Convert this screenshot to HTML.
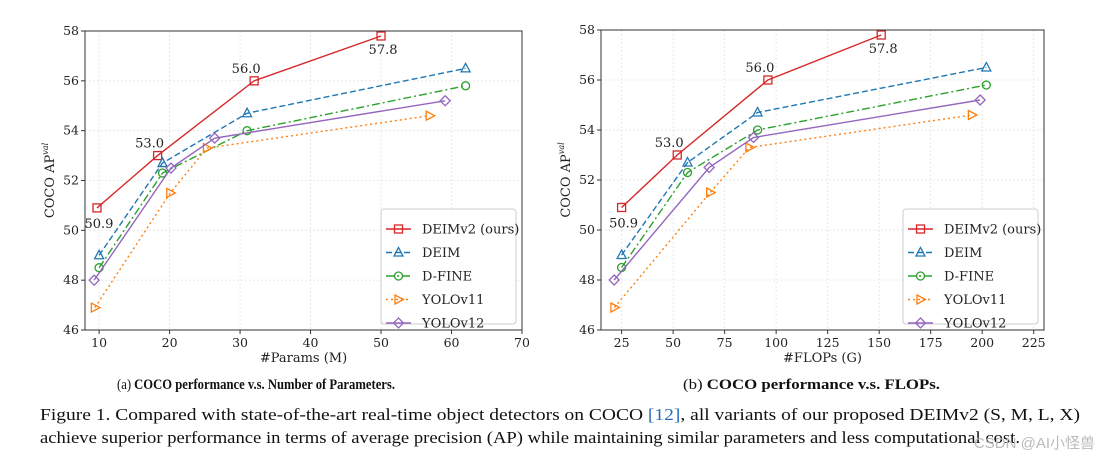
<!DOCTYPE html>
<html><head><meta charset="utf-8"><style>
html,body{margin:0;padding:0;background:#fff;}
svg{display:block;}
</style></head><body>
<svg id="fig" width="1101" height="466" viewBox="0 0 1101 466" xmlns="http://www.w3.org/2000/svg"></svg>
<script>
const seriesNames = ["DEIMv2 (ours)","DEIM","D-FINE","YOLOv11","YOLOv12"];
const yTicks = [46,48,50,52,54,56,58];
// Left chart: params (M)
const paramsTicks = [10,20,30,40,50,60,70];
const deimv2Params = [9.7,18.3,32,50];
const deimParams = [10,19,31,62];
const dfineParams = [10,19,31,62];
const yolo11Params = [9.4,20.1,25.3,56.9];
const yolo12Params = [9.3,20.2,26.4,59.1];
// Right chart: FLOPs (G)
const flopsTicks = [25,50,75,100,125,150,175,200,225];
const deimv2Flops = [25,52,96,151];
const deimFlops = [25,57,91,202];
const dfineFlops = [25,57,91,202];
const yolo11Flops = [21.5,68,87,195];
const yolo12Flops = [21.4,67.5,89,199];
// AP values (shared)
const deimv2AP = [50.9,53.0,56.0,57.8];
const deimAP = [49.0,52.7,54.7,56.5];
const dfineAP = [48.5,52.3,54.0,55.8];
const yolo11AP = [46.9,51.5,53.3,54.6];
const yolo12AP = [48.0,52.5,53.7,55.2];
const annotLabels = ["50.9","53.0","56.0","57.8"];

const NS="http://www.w3.org/2000/svg";
const svg=document.getElementById('fig');
function mk(tag,attrs,parent){const e=document.createElementNS(NS,tag);for(const k in attrs)e.setAttribute(k,attrs[k]);(parent||svg).appendChild(e);return e;}
const colors=["#d62728","#1f77b4","#2ca02c","#ff7f0e","#9467bd"];
const dashes=["","6,3","8,3,2,3","2,3",""];
const markers=["square","triangle","circle","tri-right","diamond"];
const TF='"DejaVu Serif","Liberation Serif",serif';

function marker(g,type,x,y,c){
  let e;
  if(type==="square") e=mk('rect',{x:x-4,y:y-4,width:8,height:8},g);
  else if(type==="triangle") e=mk('polygon',{points:`${x},${y-5} ${x+4.5},${y+3.5} ${x-4.5},${y+3.5}`},g);
  else if(type==="circle") e=mk('circle',{cx:x,cy:y,r:4},g);
  else if(type==="tri-right") e=mk('polygon',{points:`${x+5},${y} ${x-3.5},${y-4.5} ${x-3.5},${y+4.5}`},g);
  else e=mk('polygon',{points:`${x},${y-5} ${x+5},${y} ${x},${y+5} ${x-5},${y}`},g);
  e.setAttribute('fill','none');e.setAttribute('stroke',c);e.setAttribute('stroke-width','1.3');
  
  
}

function chart(prefix,L,R,T,B,xmin,xmax,xTicks,xLabel,xs,legX){
  const ys=[deimv2AP,deimAP,dfineAP,yolo11AP,yolo12AP];
  const sx=v=>L+(v-xmin)/(xmax-xmin)*(R-L);
  const sy=v=>B-(v-46)/(58-46)*(B-T);
  const g=mk('g',{});
  
  
  xTicks.forEach(t=>{const l=mk('line',{x1:sx(t),x2:sx(t),y1:T,y2:B,stroke:'#e3e3e3','stroke-width':0.8,'stroke-dasharray':'2,2'},g);
    });
  yTicks.forEach(t=>{const l=mk('line',{x1:L,x2:R,y1:sy(t),y2:sy(t),stroke:'#e3e3e3','stroke-width':0.8,'stroke-dasharray':'2,2'},g);
    });
  ys.forEach((yv,i)=>{
    const sg=mk('g',{},g);
    
    
    const pts=xs[i].map((x,j)=>sx(x)+','+sy(yv[j])).join(' ');
    const pl=mk('polyline',{points:pts,fill:'none',stroke:colors[i],'stroke-width':1.4},sg);
    if(dashes[i])pl.setAttribute('stroke-dasharray',dashes[i]);
    
    xs[i].forEach((x,j)=>marker(sg,markers[i],sx(x),sy(yv[j]),colors[i]));
  });
  const off=[[0,20],[-10,-8],[-10,-8],[0,18]];
  deimv2AP.forEach((v,j)=>{const t=mk('text',{x:sx(xs[0][j])+off[j][0]+2,y:sy(v)+off[j][1],'font-size':13,'font-family':TF,'text-anchor':'middle',fill:'#222'},g);
    t.textContent=annotLabels[j];});
  const fr=mk('rect',{x:L,y:T,width:R-L,height:B-T,fill:'none',stroke:'#333','stroke-width':1},g);
  
  xTicks.forEach(t=>{mk('line',{x1:sx(t),x2:sx(t),y1:B,y2:B+4,stroke:'#333'},g);
    const tx=mk('text',{x:sx(t),y:B+17,'font-size':12.5,'font-family':TF,'text-anchor':'middle',fill:'#222'},g);
    tx.textContent=t;});
  yTicks.forEach(t=>{mk('line',{x1:L-4,x2:L,y1:sy(t),y2:sy(t),stroke:'#333'},g);
    const tx=mk('text',{x:L-6,y:sy(t)+4,'font-size':12.5,'font-family':TF,'text-anchor':'end',fill:'#222'},g);
    tx.textContent=t;});
  const xl=mk('text',{x:(L+R)/2,y:B+32,'font-size':13,'font-family':TF,'text-anchor':'middle',fill:'#222'},g);
  xl.textContent=xLabel;
  const yl=mk('text',{x:0,y:0,'font-size':13,'font-family':TF,'text-anchor':'middle',fill:'#222',transform:`translate(${L-31},${(T+B)/2}) rotate(-90)`},g);
  yl.innerHTML='COCO AP<tspan font-size="8" font-style="italic" dy="-6">val</tspan>';
  
  const lg=mk('g',{},g);
  
  mk('rect',{x:legX,y:209,width:135,height:115,rx:3,fill:'#fff','fill-opacity':0.85,stroke:'#ccc'},lg);
  seriesNames.forEach((n,i)=>{
    const y=229+i*23.5;
    const e=mk('g',{},lg);
    
    const l=mk('line',{x1:legX+5,x2:legX+30,y1:y,y2:y,stroke:colors[i],'stroke-width':1.4},e);
    if(dashes[i])l.setAttribute('stroke-dasharray',dashes[i]);
    marker(e,markers[i],legX+17.5,y,colors[i]);
    const t=mk('text',{x:legX+41,y:y+4.5,'font-size':13,'font-family':TF,fill:'#222'},e);
    t.textContent=n;
  });
}
chart('params',85,522,31,330,8,70,paramsTicks,'#Params (M)',[deimv2Params,deimParams,dfineParams,yolo11Params,yolo12Params],381);
chart('flops',601,1044,30,330,15,230,flopsTicks,'#FLOPs (G)',[deimv2Flops,deimFlops,dfineFlops,yolo11Flops,yolo12Flops],903);

const CF='"Liberation Serif",serif';
function txt(x,y,s,html,name,extra){const t=mk('text',Object.assign({x:x,y:y,'font-size':s,'font-family':CF,fill:'#111',lengthAdjust:'spacingAndGlyphs'},extra||{}));t.innerHTML=html;
  return t;}
txt(117,389,14.5,'(a) <tspan font-weight="bold">COCO performance v.s. Number of Parameters.</tspan>','caption-a',{textLength:278});
txt(683,389,14.5,'(b) <tspan font-weight="bold">COCO performance v.s. FLOPs.</tspan>','caption-b',{textLength:257});
txt(40,420,17,'Figure 1.  Compared with state-of-the-art real-time object detectors on COCO <tspan fill="#2a6db5">[12]</tspan>, all variants of our proposed DEIMv2 (S, M, L, X)','figure-caption-line1',{textLength:1040});
txt(40,443,17,'achieve superior performance in terms of average precision (AP) while maintaining similar parameters and less computational cost.','figure-caption-line2',{textLength:980});
const wm=mk('text',{x:1095,y:448,'font-size':15,'font-family':'"Liberation Sans","Noto Sans CJK SC",sans-serif',fill:'#bbb','text-anchor':'end'});
wm.textContent='CSDN @AI小怪兽';

</script>
</body></html>
